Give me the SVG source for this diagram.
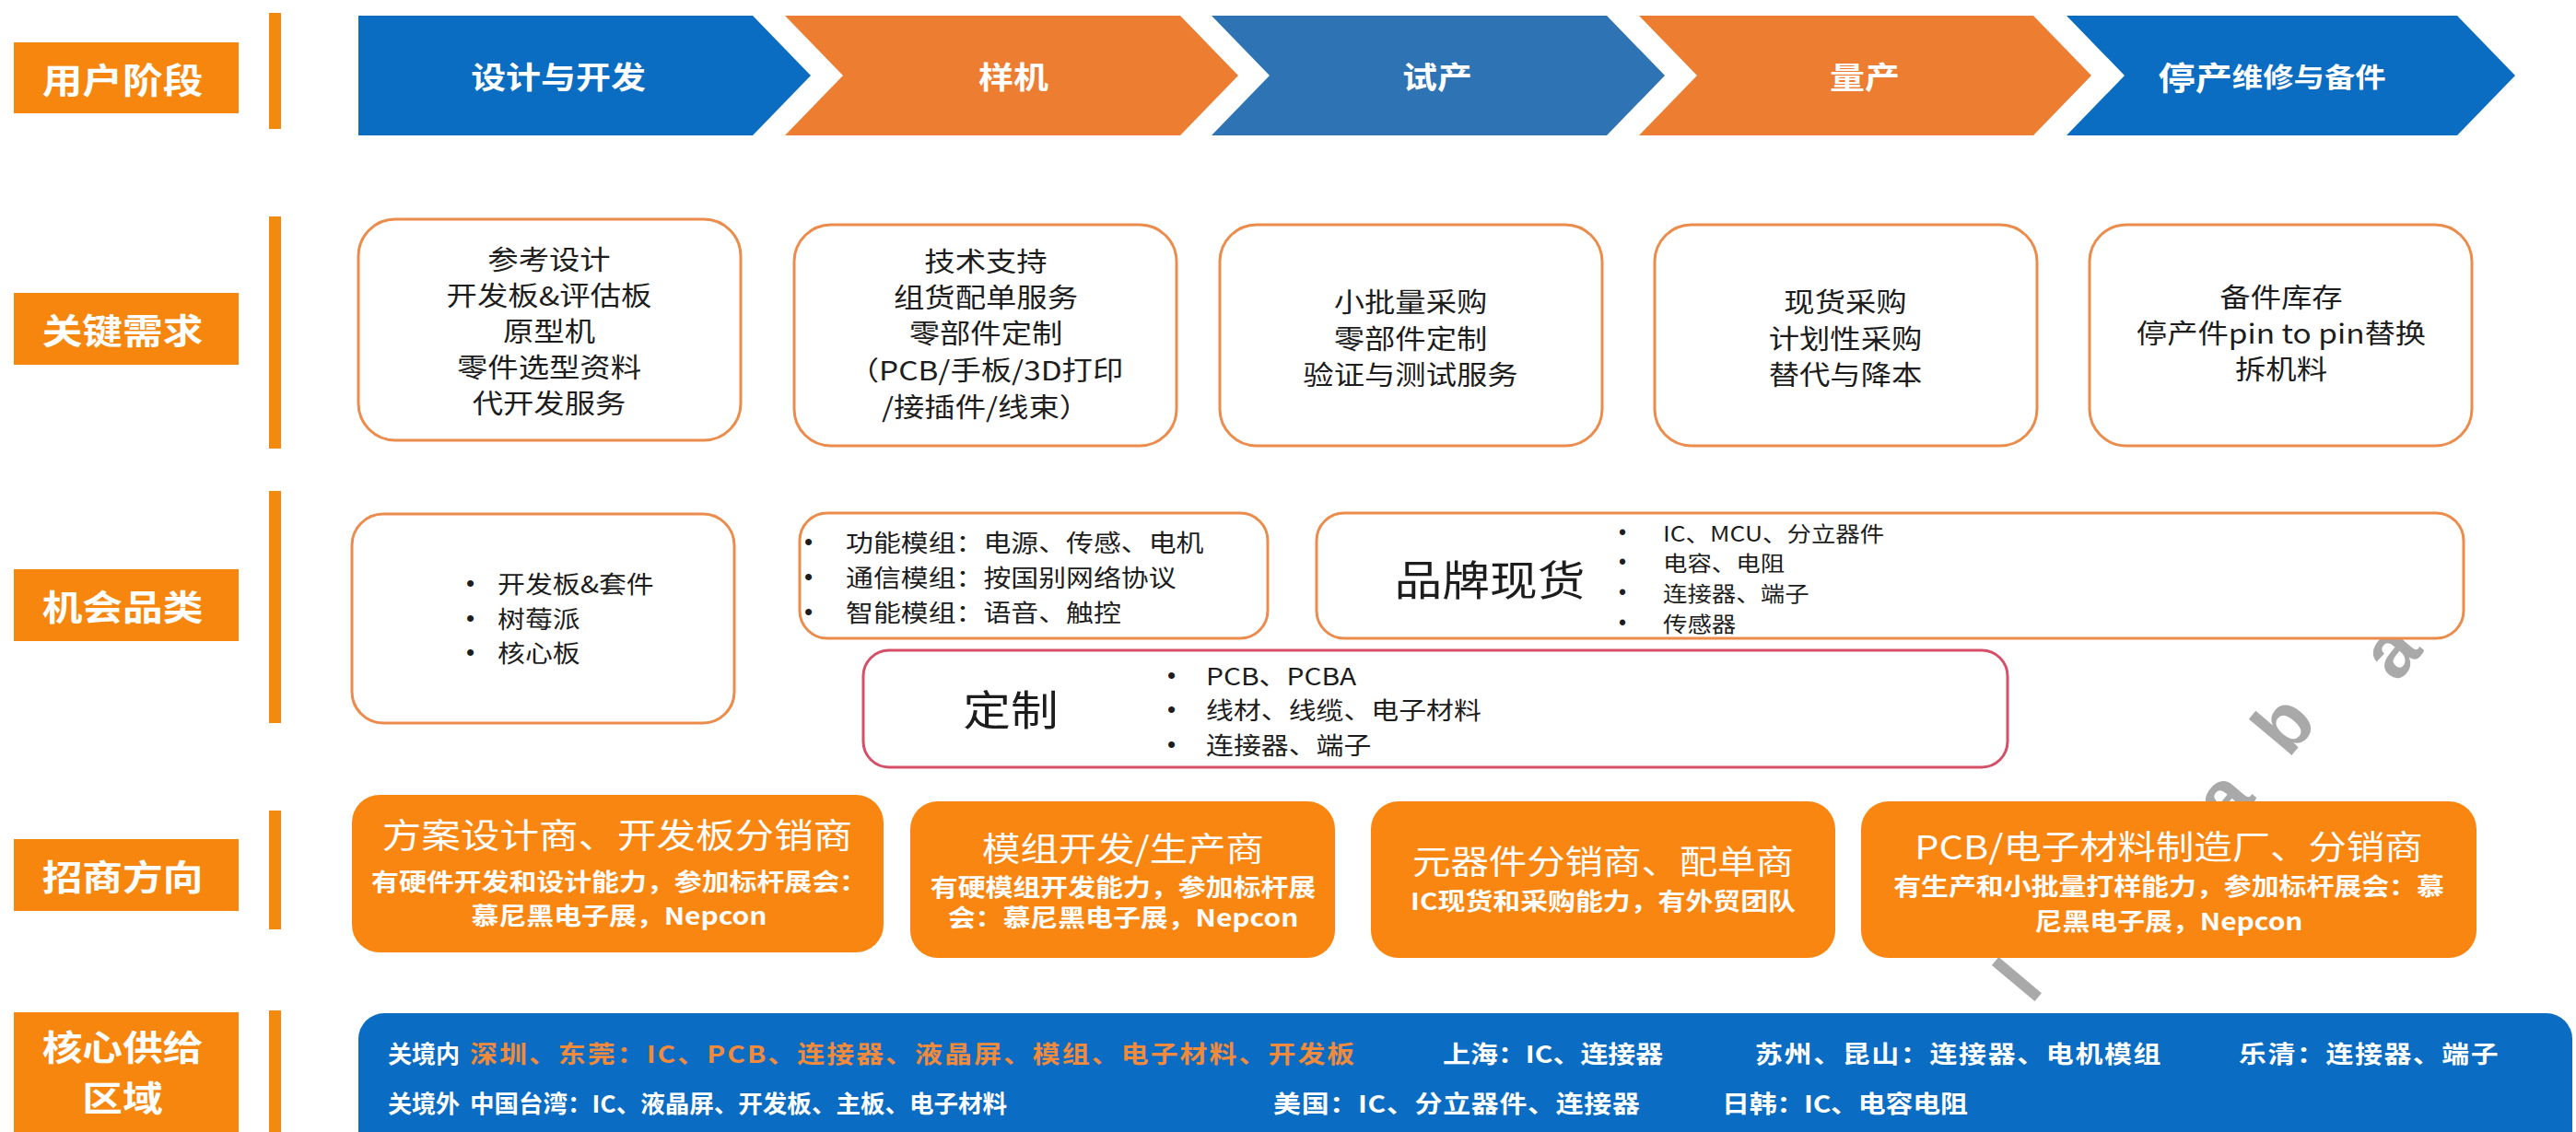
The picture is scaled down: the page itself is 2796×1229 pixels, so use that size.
<svg xmlns="http://www.w3.org/2000/svg" width="2796" height="1229" viewBox="0 0 2796 1229">
<style>
text{font-family:"Noto Sans CJK SC","Noto Sans",sans-serif;dominant-baseline:central}
.lab{fill:#F7860F}
.labt{fill:#fff;font-size:38px;font-weight:700}
.bar{fill:#F28A0E}
.chb{fill:#0A6DC2}
.chb2{fill:#2E74B5}
.cho{fill:#EC7D31}
.cht{fill:#fff;font-size:33px;font-weight:700}
.need{fill:#fff;stroke:#EC8C4C;stroke-width:3}
.needt{fill:#1d1d1d;font-size:29px}
.cat{fill:#fff;stroke:#EC8C4C;stroke-width:3}
.catr{fill:#fff;stroke:#D64F68;stroke-width:3}
.catt{fill:#1d1d1d;font-size:26px}
.bul{fill:#1d1d1d;font-size:26px;font-family:"Liberation Sans",sans-serif}
.big{fill:#1d1d1d;font-size:45px}
.inv{fill:#FA8612}
.invh{fill:#fff;font-size:36px}
.invs{fill:#fff;font-size:26px;font-weight:700}
.sup{fill:#0A6CC2}
.supt{fill:#fff;font-size:26px;font-weight:700}
.supo{fill:#F08A3C;font-size:26px;font-weight:700}
.wm{fill:#A9A9A9;font-size:84px;font-weight:700;font-family:"Liberation Sans",sans-serif}
</style>

<g id="watermark">
<text class="wm" transform="translate(2594,706) rotate(-50)" text-anchor="middle">a</text>
<text class="wm" transform="translate(2478,786) rotate(-50)" text-anchor="middle">b</text>
<text class="wm" transform="translate(2412,866) rotate(-50)" text-anchor="middle">a</text>
<text class="wm" transform="translate(2190,1064) rotate(-50)" text-anchor="middle">l</text>
</g>

<g id="row-labels">
<g id="label-stage"><rect class="lab" x="15" y="46" width="244" height="77"/><text class="labt" transform="translate(133,85) scale(1.15,1)" text-anchor="middle">用户阶段</text></g>
<g id="label-needs"><rect class="lab" x="15" y="318" width="244" height="78"/><text class="labt" transform="translate(133,357) scale(1.15,1)" text-anchor="middle">关键需求</text></g>
<g id="label-category"><rect class="lab" x="15" y="618" width="244" height="78"/><text class="labt" transform="translate(133,657) scale(1.15,1)" text-anchor="middle">机会品类</text></g>
<g id="label-invest"><rect class="lab" x="15" y="911" width="244" height="78"/><text class="labt" transform="translate(133,950) scale(1.15,1)" text-anchor="middle">招商方向</text></g>
<g id="label-supply"><rect class="lab" x="15" y="1099" width="244" height="135"/><text class="labt" transform="translate(133,0) scale(1.15,1)" text-anchor="middle"><tspan x="0" y="1134">核心供给</tspan><tspan x="0" y="1189">区域</tspan></text></g>
<rect class="bar" x="292" y="14" width="13" height="126"/>
<rect class="bar" x="292" y="235" width="13" height="252"/>
<rect class="bar" x="292" y="533" width="13" height="252"/>
<rect class="bar" x="292" y="880" width="13" height="129"/>
<rect class="bar" x="292" y="1097" width="13" height="132"/>
</g>

<g id="stages">
<g id="stage-design"><path class="chb" d="M389,17 L817,17 L880,82 L817,147 L389,147 Z"/><text class="cht" transform="translate(606,82) scale(1.15,1)" text-anchor="middle">设计与开发</text></g>
<g id="stage-proto"><path class="cho" d="M852,17 L1281,17 L1344,82 L1281,147 L852,147 L915,82 Z"/><text class="cht" transform="translate(1100,82) scale(1.15,1)" text-anchor="middle">样机</text></g>
<g id="stage-trial"><path class="chb2" d="M1315,17 L1744,17 L1807,82 L1744,147 L1315,147 L1378,82 Z"/><text class="cht" transform="translate(1560,82) scale(1.15,1)" text-anchor="middle">试产</text></g>
<g id="stage-mass"><path class="cho" d="M1779,17 L2207,17 L2270,82 L2207,147 L1779,147 L1842,82 Z"/><text class="cht" transform="translate(2024,82) scale(1.15,1)" text-anchor="middle">量产</text></g>
<g id="stage-eol"><path class="chb" d="M2243,17 L2667,17 L2730,82 L2667,147 L2243,147 L2306,82 Z"/><text class="cht" transform="translate(2466,82) scale(1.15,1)" text-anchor="middle"><tspan font-size="35">停产</tspan><tspan font-size="29">维修与备件</tspan></text></g>
</g>

<g id="needs">
<g id="need-design"><rect class="need" x="389" y="238" width="415" height="240" rx="40"/><text class="needt" transform="translate(596,0) scale(1.15,1)" text-anchor="middle"><tspan x="0" y="280">参考设计</tspan><tspan x="0" y="319">开发板&amp;评估板</tspan><tspan x="0" y="358">原型机</tspan><tspan x="0" y="397">零件选型资料</tspan><tspan x="0" y="436">代开发服务</tspan></text></g>
<g id="need-proto"><rect class="need" x="862" y="244" width="415" height="240" rx="40"/><text class="needt" transform="translate(1070,0) scale(1.15,1)" text-anchor="middle"><tspan x="0" y="282">技术支持</tspan><tspan x="0" y="321">组货配单服务</tspan><tspan x="0" y="360">零部件定制</tspan><tspan x="0" y="400">（PCB/手板/3D打印</tspan><tspan x="0" y="440">/接插件/线束）</tspan></text></g>
<g id="need-trial"><rect class="need" x="1324" y="244" width="415" height="240" rx="40"/><text class="needt" transform="translate(1531,0) scale(1.15,1)" text-anchor="middle"><tspan x="0" y="326">小批量采购</tspan><tspan x="0" y="366">零部件定制</tspan><tspan x="0" y="405">验证与测试服务</tspan></text></g>
<g id="need-mass"><rect class="need" x="1796" y="244" width="415" height="240" rx="40"/><text class="needt" transform="translate(2003,0) scale(1.15,1)" text-anchor="middle"><tspan x="0" y="326">现货采购</tspan><tspan x="0" y="366">计划性采购</tspan><tspan x="0" y="405">替代与降本</tspan></text></g>
<g id="need-eol"><rect class="need" x="2268" y="244" width="415" height="240" rx="40"/><text class="needt" transform="translate(2476,0) scale(1.15,1)" text-anchor="middle"><tspan x="0" y="321">备件库存</tspan><tspan x="0" y="360">停产件pin to pin替换</tspan><tspan x="0" y="399">拆机料</tspan></text></g>
</g>

<g id="categories">
<g id="cat-boards"><rect class="cat" x="382" y="558" width="415" height="227" rx="34"/>
<text class="bul" x="506" y="633">•</text><text class="bul" x="506" y="671">•</text><text class="bul" x="506" y="708">•</text>
<text class="catt" transform="translate(540,0) scale(1.15,1)"><tspan x="0" y="633">开发板&amp;套件</tspan><tspan x="0" y="671">树莓派</tspan><tspan x="0" y="708">核心板</tspan></text></g>
<g id="cat-modules"><rect class="cat" x="868" y="557" width="508" height="136" rx="30"/>
<text class="bul" x="873" y="588">•</text><text class="bul" x="873" y="626">•</text><text class="bul" x="873" y="664">•</text>
<text class="catt" transform="translate(918,0) scale(1.15,1)"><tspan x="0" y="588">功能模组：电源、传感、电机</tspan><tspan x="0" y="626">通信模组：按国别网络协议</tspan><tspan x="0" y="664">智能模组：语音、触控</tspan></text></g>
<g id="cat-brand"><rect class="cat" x="1429" y="557" width="1245" height="136" rx="30"/><text class="big" transform="translate(1617,628) scale(1.15,1)" text-anchor="middle">品牌现货</text>
<text class="bul" style="font-size:23px" x="1757" y="578">•</text><text class="bul" style="font-size:23px" x="1757" y="610">•</text><text class="bul" style="font-size:23px" x="1757" y="643">•</text><text class="bul" style="font-size:23px" x="1757" y="676">•</text>
<text class="catt" style="font-size:23px" transform="translate(1805,0) scale(1.15,1)"><tspan x="0" y="578">IC、MCU、分立器件</tspan><tspan x="0" y="610">电容、电阻</tspan><tspan x="0" y="643">连接器、端子</tspan><tspan x="0" y="676">传感器</tspan></text></g>
<g id="cat-custom"><rect class="catr" x="937" y="706" width="1242" height="127" rx="28"/><text class="big" transform="translate(1097,769) scale(1.15,1)" text-anchor="middle">定制</text>
<text class="bul" x="1267" y="733">•</text><text class="bul" x="1267" y="770">•</text><text class="bul" x="1267" y="808">•</text>
<text class="catt" transform="translate(1309,0) scale(1.15,1)"><tspan x="0" y="733">PCB、PCBA</tspan><tspan x="0" y="770">线材、线缆、电子材料</tspan><tspan x="0" y="808">连接器、端子</tspan></text></g>
</g>

<g id="investment">
<g id="inv-design"><rect class="inv" x="382" y="863" width="577" height="171" rx="30"/><text class="invh" style="font-size:37px" transform="translate(670,905) scale(1.15,1)" text-anchor="middle">方案设计商、开发板分销商</text><text class="invs" transform="translate(672,0) scale(1.15,1)" text-anchor="middle"><tspan x="0" y="956">有硬件开发和设计能力，参加标杆展会：</tspan><tspan x="0" y="993">慕尼黑电子展，Nepcon</tspan></text></g>
<g id="inv-module"><rect class="inv" x="988" y="870" width="461" height="170" rx="30"/><text class="invh" transform="translate(1219,919) scale(1.15,1)" text-anchor="middle">模组开发/生产商</text><text class="invs" transform="translate(1219,0) scale(1.15,1)" text-anchor="middle"><tspan x="0" y="962">有硬模组开发能力，参加标杆展</tspan><tspan x="0" y="995">会：慕尼黑电子展，Nepcon</tspan></text></g>
<g id="inv-dist"><rect class="inv" x="1488" y="870" width="504" height="170" rx="30"/><text class="invh" transform="translate(1740,933) scale(1.15,1)" text-anchor="middle">元器件分销商、配单商</text><text class="invs" transform="translate(1740,977) scale(1.15,1)" text-anchor="middle">IC现货和采购能力，有外贸团队</text></g>
<g id="inv-pcb"><rect class="inv" x="2020" y="870" width="668" height="170" rx="30"/><text class="invh" transform="translate(2354,917) scale(1.15,1)" text-anchor="middle">PCB/电子材料制造厂、分销商</text><text class="invs" transform="translate(2354,0) scale(1.15,1)" text-anchor="middle"><tspan x="0" y="961">有生产和小批量打样能力，参加标杆展会：慕</tspan><tspan x="0" y="999">尼黑电子展，Nepcon</tspan></text></g>
</g>

<g id="supply">
<rect class="sup" x="389" y="1100" width="2403" height="160" rx="28"/>
<text class="supt" transform="translate(421,1143) scale(1.15,1)" textLength="68" lengthAdjust="spacingAndGlyphs">关境内</text>
<text class="supo" transform="translate(510,1143) scale(1.15,1)" textLength="835" lengthAdjust="spacing">深圳、东莞：IC、PCB、连接器、液晶屏、模组、电子材料、开发板</text>
<text class="supt" transform="translate(1566,1143) scale(1.15,1)" textLength="208" lengthAdjust="spacing">上海：IC、连接器</text>
<text class="supt" transform="translate(1905,1143) scale(1.15,1)" textLength="383" lengthAdjust="spacing">苏州、昆山：连接器、电机模组</text>
<text class="supt" transform="translate(2430,1143) scale(1.15,1)" textLength="245" lengthAdjust="spacing">乐清：连接器、端子</text>
<text class="supt" transform="translate(421,1197) scale(1.15,1)" textLength="68" lengthAdjust="spacingAndGlyphs">关境外</text>
<text class="supt" transform="translate(510,1197) scale(1.15,1)" textLength="507" lengthAdjust="spacingAndGlyphs">中国台湾：IC、液晶屏、开发板、主板、电子材料</text>
<text class="supt" transform="translate(1382,1197) scale(1.15,1)" textLength="346" lengthAdjust="spacing">美国：IC、分立器件、连接器</text>
<text class="supt" transform="translate(1869,1197) scale(1.15,1)" textLength="232" lengthAdjust="spacing">日韩：IC、电容电阻</text>
</g>

<g id="connectors"/>
</svg>
